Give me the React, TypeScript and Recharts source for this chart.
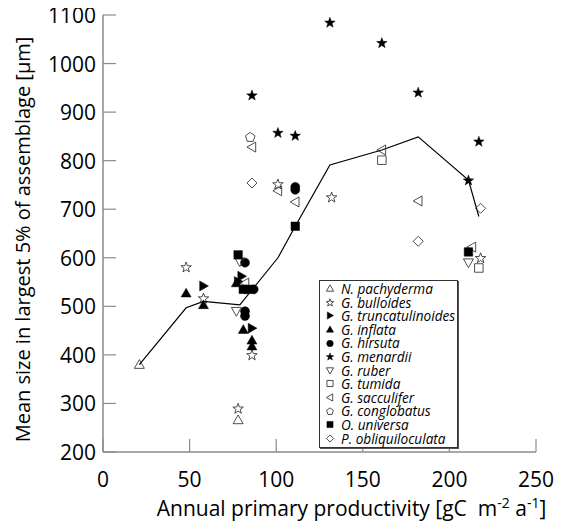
import { Label, Legend, Scatter, ScatterChart, XAxis, YAxis } from "recharts"

// tick values
const xTicks = [0, 50, 100, 150, 200, 250]
const yTicks = [200, 300, 400, 500, 600, 700, 800, 900, 1000, 1100]

type Pt = { p: number; s: number }

// productivity (p) vs mean size (s), one array per species
const pachyderma: Pt[] = [{ p: 21, s: 380 }, { p: 78, s: 266 }]
const bulloides: Pt[] = [
  { p: 48, s: 581 }, { p: 58, s: 517 }, { p: 78, s: 290 }, { p: 86, s: 400 },
  { p: 101, s: 752 }, { p: 132, s: 725 }, { p: 218, s: 600 },
]
const truncatulinoides: Pt[] = [{ p: 58, s: 542 }, { p: 80, s: 562 }, { p: 78, s: 551 }, { p: 86, s: 455 }]
const inflata: Pt[] = [
  { p: 48, s: 527 }, { p: 58, s: 503 }, { p: 77, s: 548 }, { p: 81, s: 452 },
  { p: 86, s: 430 }, { p: 86, s: 418 },
]
const hirsuta: Pt[] = [
  { p: 82, s: 590 }, { p: 87, s: 535 }, { p: 82, s: 490 }, { p: 82, s: 480 },
  { p: 111, s: 746 }, { p: 111, s: 740 },
]
const menardii: Pt[] = [
  { p: 86, s: 935 }, { p: 101, s: 858 }, { p: 111, s: 852 }, { p: 131, s: 1085 },
  { p: 161, s: 1043 }, { p: 182, s: 941 }, { p: 211, s: 760 }, { p: 217, s: 840 },
]
const ruber: Pt[] = [{ p: 79, s: 592 }, { p: 77, s: 490 }, { p: 211, s: 590 }]
const tumida: Pt[] = [{ p: 161, s: 801 }, { p: 217, s: 579 }]
const sacculifer: Pt[] = [
  { p: 86, s: 828 }, { p: 82, s: 548 }, { p: 101, s: 738 }, { p: 111, s: 715 },
  { p: 161, s: 822 }, { p: 182, s: 717 }, { p: 213, s: 622 },
]
const conglobatus: Pt[] = [{ p: 85, s: 848 }]
const universa: Pt[] = [
  { p: 78, s: 606 }, { p: 81, s: 535 }, { p: 84, s: 535 }, { p: 111, s: 665 }, { p: 211, s: 612 },
]
const obliquiloculata: Pt[] = [{ p: 86, s: 754 }, { p: 182, s: 634 }, { p: 218, s: 702 }]

// mean curve
const meanLine: Pt[] = [
  { p: 21, s: 380 }, { p: 48, s: 497 }, { p: 58, s: 510 }, { p: 79, s: 503 },
  { p: 101, s: 600 }, { p: 111, s: 665 }, { p: 131, s: 791 }, { p: 161, s: 822 },
  { p: 182, s: 849 }, { p: 211, s: 760 }, { p: 217, s: 685 },
]

const speciesNames = [
  "N. pachyderma", "G. bulloides", "G. truncatulinoides", "G. inflata", "G. hirsuta",
  "G. menardii", "G. ruber", "G. tumida", "G. sacculifer", "G. conglobatus",
  "O. universa", "P. obliquiloculata",
]
const speciesData = [
  pachyderma, bulloides, truncatulinoides, inflata, hirsuta, menardii,
  ruber, tumida, sacculifer, conglobatus, universa, obliquiloculata,
]

type Kind = "up" | "down" | "left" | "right" | "star" | "circle" | "square" | "pentagon" | "diamond"
const markKinds: Kind[] = [
  "up", "star", "right", "up", "circle", "star", "down", "square", "left", "pentagon", "square", "diamond",
]
const markFilled = [false, false, true, true, true, true, false, false, false, false, true, false]

const axisColor = "#8a8a8a"
const font = "'Open Sans', sans-serif"

function polyPath(pts: number[][]) {
  return pts.map((q, i) => (i ? "L" : "M") + q[0].toFixed(2) + "," + q[1].toFixed(2)).join("") + "Z"
}

function ringPts(cx: number, cy: number, n: number, radii: number[]) {
  const out: number[][] = []
  for (let i = 0; i < n; i++) {
    const a = -Math.PI / 2 + (i * 2 * Math.PI) / n
    const rad = radii[i % radii.length]
    out.push([cx + rad * Math.cos(a), cy + rad * Math.sin(a)])
  }
  return out
}

function Marker({ kind, filled, cx, cy, r }: { kind: Kind; filled: boolean; cx: number; cy: number; r: number }) {
  const style = filled
    ? { fill: "#000", stroke: "#000", strokeWidth: 0.5 }
    : { fill: "none", stroke: "#222", strokeWidth: 0.8 }
  let d = ""
  switch (kind) {
    case "up":
      d = polyPath([[cx, cy - r], [cx + r, cy + r * 0.75], [cx - r, cy + r * 0.75]])
      break
    case "down":
      d = polyPath([[cx, cy + r], [cx + r, cy - r * 0.75], [cx - r, cy - r * 0.75]])
      break
    case "left":
      d = polyPath([[cx - r, cy], [cx + r * 0.75, cy - r], [cx + r * 0.75, cy + r]])
      break
    case "right":
      d = polyPath([[cx + r, cy], [cx - r * 0.75, cy - r], [cx - r * 0.75, cy + r]])
      break
    case "star":
      d = polyPath(ringPts(cx, cy + r * 0.1, 10, [r * 1.1, r * 0.45]))
      break
    case "pentagon":
      d = polyPath(ringPts(cx, cy, 5, [r]))
      break
    case "diamond":
      d = polyPath([[cx, cy - r], [cx + r, cy], [cx, cy + r], [cx - r, cy]])
      break
    case "square":
      d = polyPath([[cx - r * 0.85, cy - r * 0.85], [cx + r * 0.85, cy - r * 0.85], [cx + r * 0.85, cy + r * 0.85], [cx - r * 0.85, cy + r * 0.85]])
      break
    case "circle":
      return <circle cx={cx} cy={cy} r={r * 0.9} {...style} />
  }
  return <path d={d} {...style} />
}

const BottomTick = ({ x, y, payload }: any) => (
  <g>
    <line x1={x} y1={y} x2={x} y2={y - 13} stroke={axisColor} strokeWidth={1.2} />
    <text x={x} y={y + 35} textAnchor="middle" fontFamily={font} fontSize={21} fill="#000">
      {payload.value}
    </text>
  </g>
)
const TopTick = ({ x, y }: any) => <line x1={x} y1={y} x2={x} y2={y + 13} stroke={axisColor} strokeWidth={1.2} />
const LeftTick = ({ x, y, payload }: any) => (
  <g>
    <line x1={x} y1={y} x2={x + 13} y2={y} stroke={axisColor} strokeWidth={1.2} />
    <text x={x - 7} y={y + 8} textAnchor="end" fontFamily={font} fontSize={21} fill="#000">
      {payload.value}
    </text>
  </g>
)
const RightTick = ({ x, y }: any) => <line x1={x} y1={y} x2={x - 13} y2={y} stroke={axisColor} strokeWidth={1.2} />

const XTitle = ({ viewBox }: any) => (
  <text x={viewBox.x + viewBox.width / 2 + 32} y={viewBox.y + 64} textAnchor="middle" fontFamily={font} fontSize={21} fill="#000">
    Annual primary productivity [gC{"\u00a0\u00a0"}m
    <tspan dy={-8} fontSize={14}>-2</tspan>
    <tspan dy={8}> a</tspan>
    <tspan dy={-8} fontSize={14}>-1</tspan>
    <tspan dy={8}>]</tspan>
  </text>
)
const YTitle = ({ viewBox }: any) => {
  const cx = 14
  const cy = viewBox.y + viewBox.height / 2 + 6
  return (
    <text x={cx} y={cy} transform={`rotate(-90 ${cx} ${cy})`} textAnchor="middle" dominantBaseline="central" fontFamily={font} fontSize={20} fill="#000">
      Mean size in largest 5% of assemblage [{"\u03bc"}m]
    </text>
  )
}

const LegendBox = () => (
  <div
    style={{
      border: "1px solid #333",
      boxShadow: "1px 1px 0 #555",
      background: "#fff",
      padding: "1px 0 2px 0",
      fontFamily: font,
      fontStyle: "italic",
      fontSize: 13.6,
      lineHeight: "13.6px",
    }}
  >
    {speciesNames.map((n, i) => (
      <div key={n} style={{ display: "flex", alignItems: "center", height: 13.6, whiteSpace: "nowrap" }}>
        <svg width={20} height={13} style={{ flex: "none" }}>
          <Marker kind={markKinds[i]} filled={markFilled[i]} cx={10} cy={6.5} r={3.6} />
        </svg>
        <span style={{ marginLeft: 1 }}>{n}</span>
      </div>
    ))}
  </div>
)

export default function App() {
  return (
    <ScatterChart width={552} height={516} margin={{ top: 7, right: 24, bottom: 22, left: 35 }}>
      <XAxis
        dataKey="p"
        type="number"
        domain={[0, 250]}
        ticks={xTicks}
        interval={0}
        height={50}
        tickSize={0}
        tickMargin={0}
        tick={BottomTick}
        axisLine={{ stroke: axisColor, strokeWidth: 1.5 }}
        tickLine={false}
      >
        <Label content={XTitle} />
      </XAxis>
      <XAxis
        xAxisId="top"
        orientation="top"
        type="number"
        domain={[0, 250]}
        allowDataOverflow
        ticks={xTicks}
        interval={0}
        height={0}
        tickSize={0}
        tickMargin={0}
        tick={TopTick}
        axisLine={{ stroke: axisColor, strokeWidth: 1.5 }}
        tickLine={false}
      />
      <YAxis
        dataKey="s"
        type="number"
        domain={[200, 1100]}
        ticks={yTicks}
        interval={0}
        width={60}
        tickSize={0}
        tickMargin={0}
        tick={LeftTick}
        axisLine={{ stroke: axisColor, strokeWidth: 1.5 }}
        tickLine={false}
      >
        <Label content={YTitle} />
      </YAxis>
      <YAxis
        yAxisId="right"
        orientation="right"
        type="number"
        domain={[200, 1100]}
        allowDataOverflow
        ticks={yTicks}
        interval={0}
        width={0}
        tickSize={0}
        tickMargin={0}
        tick={RightTick}
        axisLine={{ stroke: axisColor, strokeWidth: 1.5 }}
        tickLine={false}
      />
      <Scatter
        data={meanLine}
        line={{ stroke: "#000", strokeWidth: 1.2 }}
        shape={() => <g />}
        legendType="none"
        isAnimationActive={false}
      />
      {speciesData.map((d, i) => (
        <Scatter
          key={speciesNames[i]}
          name={speciesNames[i]}
          data={d}
          isAnimationActive={false}
          shape={(props: any) => <Marker kind={markKinds[i]} filled={markFilled[i]} cx={props.cx} cy={props.cy} r={5} />}
        />
      ))}
      <Legend
        layout="vertical"
        align="center"
        verticalAlign="middle"
        content={LegendBox}
        wrapperStyle={{ left: 311, top: 272, width: 139 }}
      />
    </ScatterChart>
  )
}
